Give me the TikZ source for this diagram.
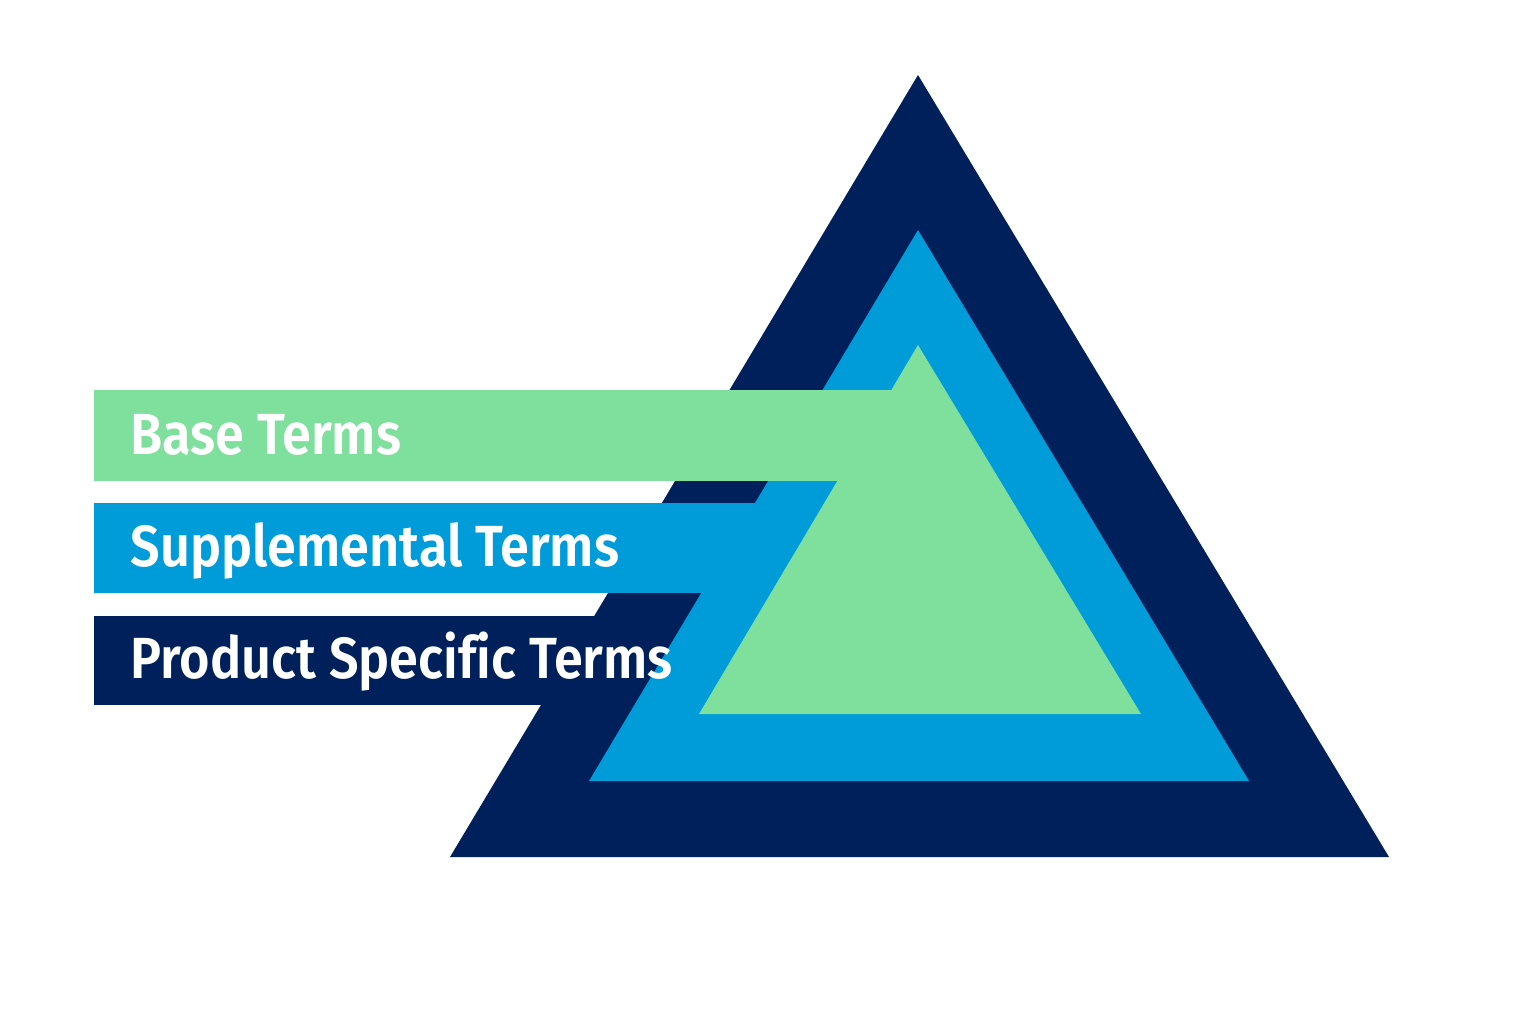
\documentclass[tikz,border=0pt]{standalone}
\usepackage{graphicx}
\usepackage{fontspec}
\setmainfont{Fira Sans}[BoldFont={Fira Sans SemiBold},Ligatures=NoCommon]
\definecolor{navy}{HTML}{00205B}
\definecolor{midblue}{HTML}{009CDA}
\definecolor{mint}{HTML}{7EE09C}
\newcommand{\barlabel}[1]{\scalebox{0.9}[1]{#1}}
\begin{document}
\begin{tikzpicture}[x=0.01cm,y=-0.01cm,
  label/.style={anchor=base west,inner sep=0pt,text=white,font=\fontsize{16.5pt}{18pt}\selectfont\bfseries}]
\useasboundingbox (0,0) rectangle (1536,1024);
\fill[white] (0,0) rectangle (1536,1024);
% outer navy triangle and bar
\fill[navy] (918,75) -- (1389,857) -- (450,857) -- cycle;
\fill[navy] (94,616) rectangle (918,705);
% blue triangle and bar
\fill[midblue] (918,230) -- (1249,781) -- (589,781) -- cycle;
\fill[midblue] (94,503) rectangle (918,593);
% green triangle and bar
\fill[mint] (918,345) -- (1141,714) -- (699,714) -- cycle;
\fill[mint] (94,390) rectangle (918,481);
% labels
\node[label] (base) at (130,454) {\barlabel{Base Terms}};
\node[label] (supp) at (130,566) {\barlabel{Supplemental Terms}};
\node[label] (prod) at (130,678) {\barlabel{Product Specific Terms}};
\end{tikzpicture}
\end{document}
